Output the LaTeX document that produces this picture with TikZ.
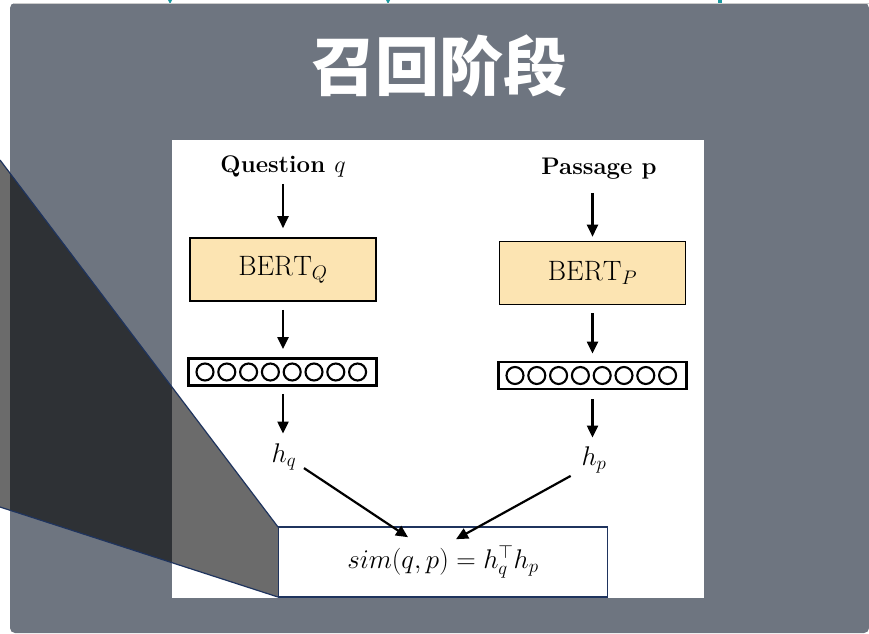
\RequirePackage{fix-cm}
\documentclass[tikz,border=0pt]{standalone}
\usepackage{fontspec}
\newfontfamily\cjkfont{Noto Sans CJK SC}
\usetikzlibrary{arrows.meta,calc}
\definecolor{panelgray}{RGB}{110,117,128}
\definecolor{bertfill}{RGB}{252,228,178}
\definecolor{navyline}{RGB}{31,52,94}
\definecolor{tealmark}{RGB}{26,154,160}
\tikzset{
  bertbox/.style={draw=black, line width=1.6pt, fill=bertfill, minimum width=186pt, minimum height=63pt, inner sep=0pt, font=\fontsize{28}{32}\selectfont},
  vecbox/.style={draw=black, line width=2.8pt, fill=white, minimum width=188pt, minimum height=27pt, inner sep=0pt},
  inlabel/.style={inner sep=0pt, font=\fontsize{24}{27}\selectfont\bfseries},
  hlabel/.style={inner sep=0pt, font=\fontsize{27}{31}\selectfont},
  simbox/.style={draw=navyline, line width=1.6pt, fill=white, minimum width=329pt, minimum height=70pt, inner sep=0pt, font=\fontsize{27}{31}\selectfont},
  arr/.style={line width=2.2pt, -{Triangle[length=12pt,width=11pt]}},
  neuron/.style={circle, draw=black, line width=2.1pt, minimum size=17pt, inner sep=0pt}
}
\begin{document}
\begin{tikzpicture}[x=1pt,y=-1pt]
\useasboundingbox (0,0) rectangle (869,633);
\fill[white] (0,0) rectangle (869,633);
% teal marks at top
\fill[tealmark] (168,0) -- (172,0) -- (170,4) -- cycle;
\fill[tealmark] (386,0) -- (390,0) -- (388,4) -- cycle;
\fill[tealmark] (718,0) -- (722,0) -- (722,5) -- (718,5) -- cycle;
% panel
\fill[panelgray, rounded corners=5pt] (10,633) -- (10,3) -- (869,3) -- (869,633) -- cycle;
\draw[gray!40, line width=0.8pt] (14,3.4) -- (869,3.4);
% title
\node[text=white, font=\cjkfont\bfseries\fontsize{64}{70}\selectfont] (title) at (439,66) {召回阶段};
% white figure
\fill[white] (172,140) rectangle (704,598);
% overlay trapezoid
\fill[black, opacity=0.58] (0,160) -- (278,527) -- (278,597) -- (0,507) -- cycle;
\draw[navyline, line width=1.2pt] (0,160) -- (278,527);
\draw[navyline, line width=1.2pt] (0,507) -- (278,597);
% left column
\node[inlabel] (qlab) at (283,166) {Question $q$};
\node[bertbox] (bq) at (283,269.5) {$\mathrm{BERT}_Q$};
\node[vecbox] (vq) at (282.5,372) {};
\foreach \i in {0,...,7} {\node[neuron] (vq\i) at (205+21.8*\i,372) {};}
\node[hlabel] (hq) at (284,457) {$h_q$};
% right column
\node[inlabel] (plab) at (599,169) {Passage p};
\node[bertbox] (bp) at (592.5,273) {$\mathrm{BERT}_P$};
\node[vecbox] (vp) at (592.5,375.5) {};
\foreach \i in {0,...,7} {\node[neuron] (vp\i) at (515+21.8*\i,375.5) {};}
\node[hlabel] (hp) at (594,460) {$h_p$};
% similarity box
\node[simbox] (sim) at (443,562) {$sim(q,p) = h_q^{\top} h_p$};
\coordinate (simL) at ($(sim.north)+(-35,11)$);
\coordinate (simR) at ($(sim.north)+(13,13)$);
% arrows
\draw[arr, shorten <=7pt, shorten >=9pt] (qlab.south -| bq.north) -- (bq.north);
\draw[arr, shorten <=13pt, shorten >=4pt] (plab.south -| bp.north) -- (bp.north);
\draw[arr, shorten <=8pt, shorten >=8pt] (bq.south) -- (bq.south |- vq.north);
\draw[arr, shorten <=8pt, shorten >=7pt] (bp.south) -- (bp.south |- vp.north);
\draw[arr, shorten <=7pt, shorten >=10pt] (bq.south |- vq.south) -- (bq.south |- hq.north);
\draw[arr, shorten <=9pt, shorten >=9pt] (bp.south |- vp.south) -- (bp.south |- hp.north);
\draw[arr, shorten <=3pt] ($(hq.south east)+(5,-4)$) -- (simL);
\draw[arr, shorten <=3pt] ($(hp.south west)+(-8,1)$) -- (simR);
\end{tikzpicture}
\end{document}
